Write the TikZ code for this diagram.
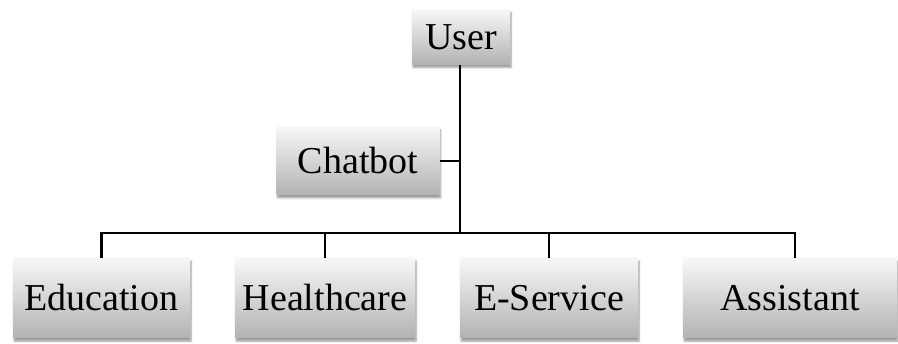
\documentclass[tikz,border=0pt]{standalone}
\usepackage{fontspec}
\setmainfont{Liberation Serif}
\usetikzlibrary{shadows.blur}
\begin{document}
\begin{tikzpicture}[x=1pt,y=-1pt,
  box/.style={rectangle, inner sep=0pt, top color=white!97!black, bottom color=black!30,
    blur shadow={shadow xshift=1pt, shadow yshift=-3pt, shadow blur steps=6, shadow opacity=40},
    font=\fontsize{38}{40}\selectfont},
  conn/.style={line width=2.2pt}]
\useasboundingbox (0,0) rectangle (898,344);
\node[box, minimum width=98pt, minimum height=55pt] (user) at (461,37) {User};
\node[box, minimum width=163pt, minimum height=68pt] (chat) at (358,161) {Chatbot};
\node[box, minimum width=177pt, minimum height=80pt] (edu) at (101.5,298) {Education};
\node[box, minimum width=180pt, minimum height=80pt] (health) at (325,298) {Healthcare};
\node[box, minimum width=178pt, minimum height=80pt] (eserv) at (549,298) {E-Service};
\node[box, minimum width=214pt, minimum height=80pt] (assist) at (790,298) {Assistant};
\coordinate (j) at (460,233);
\coordinate (at) at ([xshift=5pt]assist.north);
\draw[conn] (user.south -| j) -- (j);
\draw[conn] (chat.east) -- (chat.east -| j);
\draw[conn] (edu.north) -- (edu.north |- j) -- (at |- j) -- (at);
\draw[conn] (health.north) -- (health.north |- j);
\draw[conn] (eserv.north) -- (eserv.north |- j);
\end{tikzpicture}
\end{document}
